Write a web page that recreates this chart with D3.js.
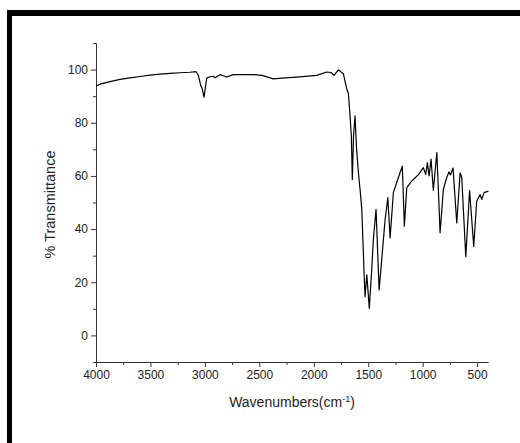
<!DOCTYPE html>
<html>
<head>
<meta charset="utf-8">
<script src="https://cdn.jsdelivr.net/npm/d3@7"></script>
<style>
  body { margin: 0; background: #fff; }
  svg { display: block; font-family: "Liberation Sans", Arial, sans-serif; }
</style>
</head>
<body>
<svg id="chart"></svg>
<script>
const width = 520;
const height = 443;

// spectrum points (wavenumber, % transmittance)
const wavenumbers = [
  4000, 3963, 3871, 3780, 3688, 3596, 3504, 3412, 3320, 3228, 3137, 3081,
  3060, 3038, 3026, 3008, 2983, 2953, 2922, 2907, 2861, 2799, 2739, 2555,
  2475, 2371, 2264, 2156, 1973, 1881, 1842, 1814, 1774, 1728, 1697, 1682,
  1667, 1655, 1646, 1635, 1621, 1607, 1590, 1575, 1559, 1550, 1538, 1529,
  1513, 1490, 1468, 1453, 1428, 1400, 1376, 1345, 1320, 1299, 1269, 1223,
  1187, 1168, 1146, 1100, 1039, 994, 972, 957, 941, 923, 902, 870,
  856, 840, 810, 779, 758, 744, 721, 687, 656, 641, 604, 569,
  531, 504, 473, 457, 436, 396
];
const transmittance = [
  93.8, 94.5, 95.5, 96.3, 96.9, 97.4, 97.9, 98.3, 98.6, 98.8, 99.0, 99.2,
  97.8, 94.0, 93.0, 89.6, 96.8, 97.3, 97.5, 96.9, 98.1, 97.2, 98.1, 98.1,
  97.8, 96.5, 96.9, 97.2, 97.8, 99.1, 98.9, 97.8, 99.9, 98.4, 92.7, 91.0,
  82.6, 75.0, 58.7, 75.0, 82.6, 70.0, 61.2, 54.9, 47.4, 37.3, 23.4, 14.6,
  22.8, 10.2, 24.7, 36.0, 47.4, 17.1, 28.5, 43.6, 51.8, 36.7, 53.7, 59.4,
  63.7, 41.1, 55.6, 58.1, 60.5, 63.1, 60.5, 65.0, 60.0, 66.3, 54.6, 68.8,
  55.0, 38.6, 54.9, 59.4, 61.5, 60.4, 63.0, 42.3, 61.2, 59.4, 29.6, 54.5,
  33.4, 50.5, 53.0, 51.2, 53.7, 54.3
];

// tick values
const xMajor = [4000, 3500, 3000, 2500, 2000, 1500, 1000, 500];
const xMinor = [3750, 3250, 2750, 2250, 1750, 1250, 750];
const yMajor = [0, 20, 40, 60, 80, 100];
const yMinor = [-10, 10, 30, 50, 70, 90, 110];

const svg = d3.select("#chart").attr("width", width).attr("height", height);

// outer frame (only top and left edges show)
svg.append("rect").attr("x", 7).attr("y", 10).attr("width", width - 7).attr("height", 6).attr("fill", "#000");
svg.append("rect").attr("x", 7).attr("y", 10).attr("width", 5).attr("height", height - 10).attr("fill", "#000");

const plot = { left: 96, right: 488, top: 43, bottom: 362 };

const x = d3.scaleLinear().domain([4000, 400]).range([plot.left, plot.right]);
const y = d3.scaleLinear().domain([-10, 110]).range([plot.bottom, plot.top]);

// x axis
const gx = svg.append("g").attr("transform", `translate(0,${plot.bottom})`);
gx.call(d3.axisBottom(x).tickValues(xMajor).tickFormat(d3.format("d")).tickSize(5).tickPadding(3).tickSizeOuter(0));
gx.append("g").call(d3.axisBottom(x).tickValues(xMinor).tickSize(3).tickFormat("").tickSizeOuter(0));

// y axis
const gy = svg.append("g").attr("transform", `translate(${plot.left},0)`);
gy.call(d3.axisLeft(y).tickValues(yMajor).tickFormat(d3.format("d")).tickSize(5).tickPadding(3).tickSizeOuter(0));
gy.append("g").call(d3.axisLeft(y).tickValues(yMinor).tickSize(3).tickFormat("").tickSizeOuter(0));

svg.selectAll(".domain").attr("stroke", "#333");
svg.selectAll(".tick line").attr("stroke", "#333");
svg.selectAll(".tick text").attr("fill", "#222").style("font-size", "12px").style("font-family", "Liberation Sans, Arial, sans-serif");

// spectrum line
const points = wavenumbers.map((w, i) => [w, transmittance[i]]);
const line = d3.line().x((d) => x(d[0])).y((d) => y(d[1]));
svg.append("path")
  .datum(points)
  .attr("d", line)
  .attr("fill", "none")
  .attr("stroke", "#000")
  .attr("stroke-width", 1.2)
  .attr("stroke-linejoin", "round");

// axis titles
svg.append("text")
  .attr("transform", `translate(55,${(plot.top + plot.bottom) / 2 + 2}) rotate(-90)`)
  .attr("text-anchor", "middle")
  .attr("fill", "#222")
  .style("font-size", "14.5px")
  .text("% Transmittance");

const xt = svg.append("text")
  .attr("x", 292)
  .attr("y", 407)
  .attr("text-anchor", "middle")
  .attr("fill", "#222")
  .style("font-size", "14px");
xt.append("tspan").text("Wavenumbers(cm");
xt.append("tspan").attr("dy", -5).style("font-size", "9px").text("-1");
xt.append("tspan").attr("dy", 5).text(")");
</script>
</body>
</html>
